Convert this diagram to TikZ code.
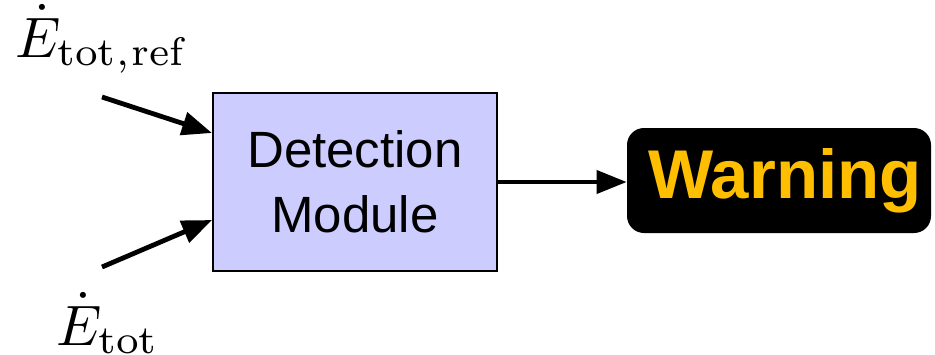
\documentclass[tikz,border=0pt]{standalone}
\usepackage{graphicx}
\usepackage{fontspec}
\newfontfamily\helv{Liberation Sans}
\usetikzlibrary{arrows.meta}
\definecolor{boxfill}{RGB}{204,204,255}
\definecolor{warnyellow}{RGB}{255,190,0}
\tikzset{
  detbox/.style={draw=black, line width=1pt, fill=boxfill, minimum width=142pt, minimum height=89pt, inner sep=0pt, align=center,
    font=\helv\fontsize{25.5}{32.5}\selectfont},
  warnbox/.style={fill=black, rounded corners=8.5pt, minimum width=152pt, minimum height=52.5pt, inner sep=0pt,
    text=warnyellow, font=\helv\bfseries\fontsize{34.5}{40}\selectfont},
  inarrow/.style={line width=2.4pt, -{Triangle[length=15pt,width=11.5pt]}},
  outarrow/.style={line width=2pt, -{Triangle[length=15pt,width=11.5pt]}},
  mathlabel/.style={inner sep=0pt, anchor=base west}
}
\newcommand{\biglabel}[1]{\scalebox{2.85}{$#1$}}
\begin{document}
\begin{tikzpicture}[x=0.5pt,y=-0.5pt]
\useasboundingbox (0,0) rectangle (935,354);
\node[detbox] (det) at (355,182) {Detection\\Module};
\node[warnbox] (warn) at (779,180.5) {\hspace*{6pt}Warning};
\node[mathlabel] (lref) at (15,57) {\biglabel{\dot E_{\mathrm{tot,}\mkern1mu\mathrm{ref}}}};
\node[mathlabel] (ltot) at (56,345) {\biglabel{\dot E_{\mathrm{tot}}}};
\coordinate (t1) at (102,97);
\coordinate (t2) at (102,267);
\draw[inarrow] (t1) -- ([yshift=24.5pt]det.west);
\draw[inarrow] (t2) -- ([yshift=-19pt]det.west);
\draw[outarrow] (det.east) -- (det.east -| warn.west);
\end{tikzpicture}
\end{document}
